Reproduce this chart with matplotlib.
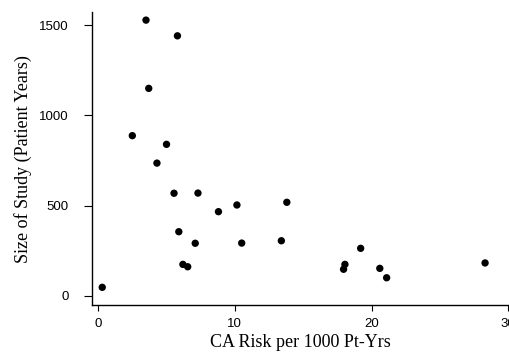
import matplotlib; matplotlib.use("Agg")
import matplotlib.pyplot as plt

# CA risk (per 1000 pt-yrs) vs size of study (patient years)
risk = [3.5, 5.8, 3.7, 2.5, 5.0, 4.3, 5.55, 7.3, 10.15, 8.8, 5.9, 7.1,
        10.5, 6.2, 6.55, 0.3, 13.8, 13.4, 19.2, 18.05, 17.95, 20.6, 21.1, 28.3]
size = [1528, 1441, 1150, 888, 840, 736, 569, 570, 504, 467, 356, 292,
        293, 175, 162, 48, 519, 306, 264, 175, 148, 153, 101, 183]
xticks = [0, 10, 20, 30]
yticks = [0, 500, 1000, 1500]

SERIF = ["Liberation Serif", "DejaVu Serif"]
SANS = ["Liberation Sans", "DejaVu Sans"]

fig = plt.figure(figsize=(5.09, 3.58), dpi=100)
ax = fig.add_axes([0.181, 0.148, 0.819, 0.818])
ax.scatter(risk, size, s=28, color="black", edgecolor="none", zorder=3)

ax.set_xlim(-0.44, 30.05); ax.set_ylim(-50, 1572)
ax.set_xticks(xticks); ax.set_yticks(yticks)
for s in ("top", "right"): ax.spines[s].set_visible(False)
for s in ("left", "bottom"): ax.spines[s].set_linewidth(1.0)
ax.tick_params(axis="y", length=6, width=0.8, pad=11)
ax.tick_params(axis="x", length=4, width=0.8, pad=5)
for lab in ax.get_xticklabels() + ax.get_yticklabels():
    lab.set_family(SANS); lab.set_fontsize(9.5)

ax.set_xlabel("CA Risk per 1000 Pt-Yrs", family=SERIF, fontsize=13, labelpad=3)
ax.set_ylabel("Size of Study (Patient Years)", family=SERIF, fontsize=13, labelpad=5)

fig.savefig("out.png", dpi=100)
